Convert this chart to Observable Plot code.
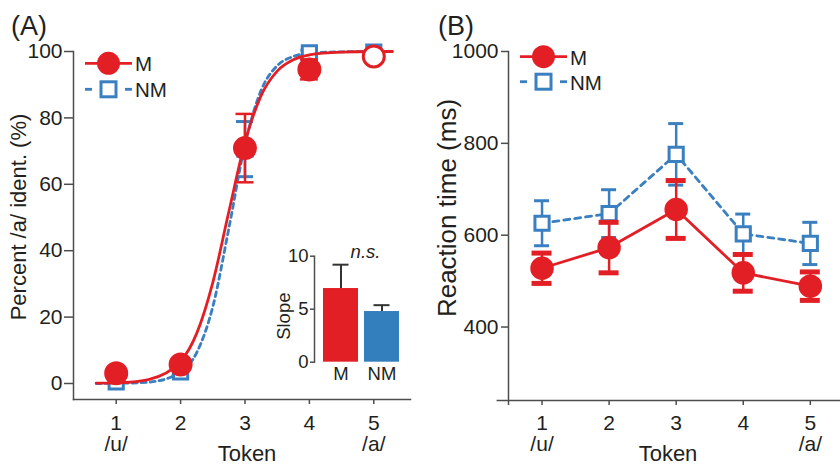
<!DOCTYPE html>
<html>
<head>
<meta charset="utf-8">
<script src="https://cdn.jsdelivr.net/npm/d3@7"></script>
<script src="https://cdn.jsdelivr.net/npm/@observablehq/plot@0.6"></script>
<style>
  html, body { margin: 0; padding: 0; background: #fff; }
  #chart { position: relative; width: 840px; height: 465px; overflow: hidden; background: #fff; }
  #chart > svg { position: absolute; }
</style>
</head>
<body>
<div id="chart"></div>
<script>
// ---------------- data ----------------
const tokens = [1, 2, 3, 4, 5];
const tokenNames = ["/u/", "", "", "", "/a/"];

// Panel A: percent /a/ identification
const identM = [3.1, 5.7, 70.9, 94.6, 98.5];
const identMErr = [1.0, 1.5, 10.3, 3.0, 1.0];
const identNM = [0.5, 3.5, 70.6, 99.6, 99.8];
const identNMErr = [0.5, 1.0, 8.3, 0.8, 0.5];

// fitted psychometric curves
const fitX  = [0.69, 1, 1.5, 2, 2.25, 2.5, 2.75, 3, 3.25, 3.5, 3.75, 4, 4.5, 5, 5.29];
const fitM  = [0.1, 0.2, 1.2, 6.7, 15.1, 30.4, 51.8, 72.6, 86.7, 94.1, 97.5, 99.0, 99.8, 100, 100];
const fitNM = [0, 0.05, 0.4, 3.4, 9.3, 23.1, 46.8, 72.0, 88.3, 95.7, 98.5, 99.5, 99.9, 100, 100];

// inset: slope
const groups = ["M", "NM"];
const slopeMean = [6.95, 4.78];
const slopeErr = [2.25, 0.6];

// Panel B: reaction time (ms)
const rtM = [528, 573, 656, 518, 489];
const rtMErr = [33, 55, 63, 40, 31];
const rtNM = [626, 647, 776, 603, 582];
const rtNMErr = [49, 52, 67, 43, 46];

// ---------------- styling ----------------
const red = "#e31f26", blue = "#3a7fc0", blueBar = "#337ebd";
const axisGray = "#4d4d4d", textColor = "#231f20";
const fontFamily = '"Liberation Sans", Arial, Helvetica, sans-serif';

const rowsA = tokens.map((t, i) => ({token: t, m: identM[i], mErr: identMErr[i], nm: identNM[i], nmErr: identNMErr[i], open: i === tokens.length - 1}));
const fitRows = fitX.map((x, i) => ({x, m: fitM[i], nm: fitNM[i]}));
const rowsS = groups.map((g, i) => ({group: g, mean: slopeMean[i], err: slopeErr[i]}));
const rowsB = tokens.map((t, i) => ({token: t, m: rtM[i], mErr: rtMErr[i], nm: rtNM[i], nmErr: rtNMErr[i]}));

const tickFmt = t => {
  const i = tokens.indexOf(t);
  if (i < 0) return "";
  return tokenNames[i] ? `${t}\n${tokenNames[i]}` : `${t}`;
};

const baseStyle = {fontFamily, color: textColor, background: "transparent", overflow: "visible"};
const chart = document.getElementById("chart");

// ---------------- Panel A ----------------
const xDomainA = [0.337, 5.57];
const yDomainA = [-4.82, 100];
const plotA = Plot.plot({
  width: 420, height: 465,
  marginLeft: 73, marginRight: 10, marginTop: 51, marginBottom: 66,
  style: {...baseStyle, fontSize: "21px"},
  x: {domain: xDomainA},
  y: {domain: yDomainA},
  color: {type: "identity"},
  marks: [
    Plot.frame({anchor: "left", stroke: axisGray, strokeWidth: 1.5}),
    Plot.frame({anchor: "bottom", stroke: axisGray, strokeWidth: 1.5}),
    Plot.axisY({ticks: [0, 20, 40, 60, 80, 100], tickFormat: d3.format("d"), tickSize: 9, tickPadding: 2, fontSize: 21, label: null, stroke: axisGray, strokeWidth: 1.5}),
    Plot.axisX({ticks: tokens, tickFormat: tickFmt, tickSize: 5, tickPadding: 11, fontSize: 21, lineHeight: 1, label: null, stroke: axisGray, strokeWidth: 1.5}),
    Plot.text(["Percent /a/ ident. (%)"], {text: d => d, frameAnchor: "left", rotate: -90, textAnchor: "middle", lineAnchor: "middle", dx: -54.5, dy: -8.5, fontSize: 22, fill: textColor}),
    Plot.text(["Token"], {text: d => d, frameAnchor: "bottom", textAnchor: "middle", lineAnchor: "middle", dx: 5, dy: 54.3, fontSize: 22, fill: textColor}),
    // NM
    Plot.line(fitRows, {x: "x", y: "nm", stroke: blue, strokeWidth: 2.8, strokeDasharray: "5,4", curve: "monotone-x"}),
    Plot.ruleX(rowsA, {x: "token", y1: d => d.nm - d.nmErr, y2: d => d.nm + d.nmErr, stroke: blue, strokeWidth: 2.5}),
    Plot.ruleY(rowsA, {y: d => d.nm + d.nmErr, x1: "token", x2: "token", insetLeft: -8.5, insetRight: -8.5, stroke: blue, strokeWidth: 3}),
    Plot.ruleY(rowsA, {y: d => d.nm - d.nmErr, x1: "token", x2: "token", insetLeft: -8.5, insetRight: -8.5, stroke: blue, strokeWidth: 3}),
    Plot.dot(rowsA, {x: "token", y: "nm", symbol: "square", r: 8, stroke: blue, strokeWidth: 3, fill: "white"}),
    // M
    Plot.line(fitRows, {x: "x", y: "m", stroke: red, strokeWidth: 2.8, curve: "monotone-x"}),
    Plot.ruleX(rowsA, {x: "token", y1: d => d.m - d.mErr, y2: d => d.m + d.mErr, stroke: red, strokeWidth: 2.5}),
    Plot.ruleY(rowsA, {y: d => d.m + d.mErr, x1: "token", x2: "token", insetLeft: -9, insetRight: -9, stroke: red, strokeWidth: 2.5}),
    Plot.ruleY(rowsA, {y: d => d.m - d.mErr, x1: "token", x2: "token", insetLeft: -9, insetRight: -9, stroke: red, strokeWidth: 2.5}),
    Plot.dot(rowsA, {x: "token", y: "m", r: 10.5, stroke: red, strokeWidth: 3, fill: d => d.open ? "white" : red})
  ]
});
plotA.style.left = "0px"; plotA.style.top = "0px";
chart.appendChild(plotA);

// ---------------- Inset (slope) ----------------
const plotS = Plot.plot({
  width: 160, height: 150,
  marginLeft: 54, marginRight: 4, marginTop: 15.7, marginBottom: 28.3,
  style: {...baseStyle, fontSize: "18px"},
  x: {type: "band", domain: groups, range: [63.3, 139.7], paddingInner: 0.137, paddingOuter: 0, align: 0.5},
  y: {domain: [0, 10]},
  color: {domain: groups, range: [red, blueBar]},
  marks: [
    Plot.barY(rowsS, {x: "group", y: "mean", fill: "group"}),
    Plot.ruleX(rowsS, {x: "group", y1: "mean", y2: d => d.mean + d.err, stroke: "#333", strokeWidth: 2}),
    Plot.tickY(rowsS, {x: "group", y: d => d.mean + d.err, insetLeft: 9.5, insetRight: 9.5, stroke: "#333", strokeWidth: 2}),
    Plot.frame({anchor: "left", stroke: axisGray, strokeWidth: 1.5}),
    Plot.axisY({ticks: [0, 5, 10], tickSize: 4, tickPadding: 2, fontSize: 18.5, label: null, stroke: axisGray, strokeWidth: 1.5}),
    Plot.axisX({tickSize: 0, tickPadding: 5, fontSize: 18.5, label: null}),
    Plot.text(["Slope"], {text: d => d, frameAnchor: "left", rotate: -90, textAnchor: "middle", lineAnchor: "middle", dx: -30.7, dy: 7, fontSize: 18.5, fill: textColor}),
    Plot.text(["n.s."], {text: d => d, frameAnchor: "top", textAnchor: "middle", lineAnchor: "middle", dy: -4, fontSize: 18.5, fontStyle: "italic", fill: textColor})
  ]
});
plotS.style.left = "260px"; plotS.style.top = "240px";
chart.appendChild(plotS);

// ---------------- Panel B ----------------
const xDomainB = [0.5, 5.45];
const xAxisStartB = 0.33;
const yDomainB = [240, 1000];
const plotB = Plot.plot({
  width: 840, height: 465,
  marginLeft: 508, marginRight: 0, marginTop: 51, marginBottom: 65,
  style: {...baseStyle, fontSize: "21px"},
  x: {domain: xDomainB},
  y: {domain: yDomainB},
  marks: [
    Plot.frame({anchor: "left", stroke: axisGray, strokeWidth: 1.5}),
    Plot.ruleY([yDomainB[0]], {y: d => d, x1: xAxisStartB, x2: xDomainB[1], stroke: axisGray, strokeWidth: 1.5}),
    Plot.axisY({ticks: [400, 600, 800, 1000], tickFormat: d3.format("d"), tickSize: 7, tickPadding: 3, fontSize: 21, label: null, stroke: axisGray, strokeWidth: 1.5}),
    Plot.axisX({ticks: [xDomainB[0], ...tokens], tickFormat: tickFmt, tickSize: 5, tickPadding: 10, fontSize: 21, lineHeight: 1, label: null, stroke: axisGray, strokeWidth: 1.5}),
    Plot.text(["Reaction time (ms)"], {text: d => d, frameAnchor: "left", rotate: -90, textAnchor: "middle", lineAnchor: "middle", dx: -60.5, dy: -18, fontSize: 26, fill: textColor}),
    Plot.text(["Token"], {text: d => d, frameAnchor: "bottom", textAnchor: "middle", lineAnchor: "middle", dx: -6.5, dy: 53.3, fontSize: 22, fill: textColor}),
    // NM
    Plot.line(rowsB, {x: "token", y: "nm", stroke: blue, strokeWidth: 2.8, strokeDasharray: "6,5"}),
    Plot.ruleX(rowsB, {x: "token", y1: d => d.nm - d.nmErr, y2: d => d.nm + d.nmErr, stroke: blue, strokeWidth: 2.5}),
    Plot.ruleY(rowsB, {y: d => d.nm + d.nmErr, x1: "token", x2: "token", insetLeft: -7.5, insetRight: -7.5, stroke: blue, strokeWidth: 3}),
    Plot.ruleY(rowsB, {y: d => d.nm - d.nmErr, x1: "token", x2: "token", insetLeft: -7.5, insetRight: -7.5, stroke: blue, strokeWidth: 3}),
    Plot.dot(rowsB, {x: "token", y: "nm", symbol: "square", r: 8, stroke: blue, strokeWidth: 3, fill: "white"}),
    // M
    Plot.line(rowsB, {x: "token", y: "m", stroke: red, strokeWidth: 2.8}),
    Plot.ruleX(rowsB, {x: "token", y1: d => d.m - d.mErr, y2: d => d.m + d.mErr, stroke: red, strokeWidth: 2.5}),
    Plot.ruleY(rowsB, {y: d => d.m + d.mErr, x1: "token", x2: "token", insetLeft: -10, insetRight: -10, stroke: red, strokeWidth: 5}),
    Plot.ruleY(rowsB, {y: d => d.m - d.mErr, x1: "token", x2: "token", insetLeft: -10, insetRight: -10, stroke: red, strokeWidth: 5}),
    Plot.dot(rowsB, {x: "token", y: "m", r: 10.5, stroke: red, strokeWidth: 2.5, fill: red})
  ]
});
plotB.style.left = "0px"; plotB.style.top = "0px";
chart.insertBefore(plotB, plotA);

// ---------------- overlay: panel labels + legends ----------------
const ov = d3.select(chart).append("svg")
  .attr("width", 840).attr("height", 465)
  .style("left", "0px").style("top", "0px").style("pointer-events", "none")
  .attr("font-family", fontFamily).attr("fill", textColor);

ov.append("text").attr("x", 11).attr("y", 35).attr("font-size", 27).text("(A)");
ov.append("text").attr("x", 438).attr("y", 35).attr("font-size", 27).text("(B)");

function legend(x0, x1, tx, y1, y2) {
  const cx = (x0 + x1) / 2;
  const g = ov.append("g");
  g.append("line").attr("x1", x0).attr("x2", x1).attr("y1", y1).attr("y2", y1)
    .attr("stroke", red).attr("stroke-width", 2.8);
  g.append("circle").attr("cx", cx).attr("cy", y1).attr("r", 10.5).attr("fill", red).attr("stroke", red).attr("stroke-width", 2);
  g.append("text").attr("x", tx).attr("y", y1 + 8).attr("font-size", 20.5).text(groups[0]);
  const dash = 7;
  g.append("line").attr("x1", x0).attr("x2", x0 + dash).attr("y1", y2).attr("y2", y2).attr("stroke", blue).attr("stroke-width", 2.8);
  g.append("line").attr("x1", x1 - dash).attr("x2", x1).attr("y1", y2).attr("y2", y2).attr("stroke", blue).attr("stroke-width", 2.8);
  g.append("rect").attr("x", cx - 7.5).attr("y", y2 - 7.5).attr("width", 15).attr("height", 15)
    .attr("fill", "white").attr("stroke", blue).attr("stroke-width", 3);
  g.append("text").attr("x", tx).attr("y", y2 + 8).attr("font-size", 20.5).text(groups[1]);
}
legend(85, 132, 135, 63.3, 89.3);
legend(520, 567, 570, 56.7, 81.7);
</script>
</body>
</html>
